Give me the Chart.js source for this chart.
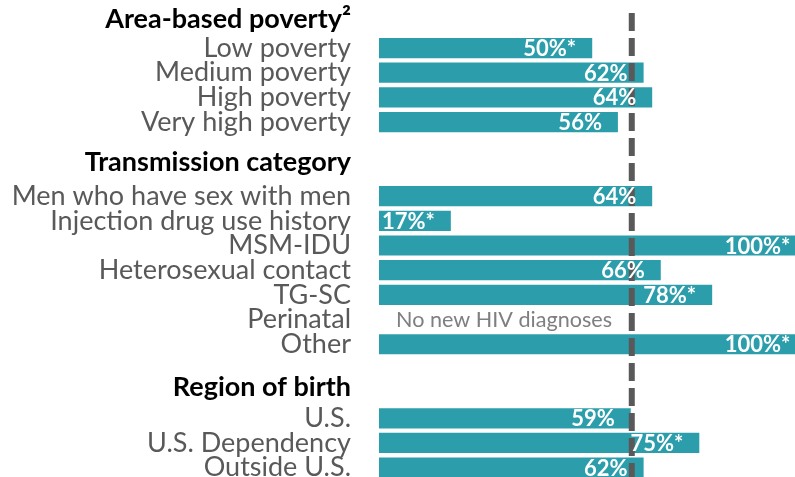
<!DOCTYPE html>
<html>
<head>
<meta charset="utf-8">
<script src="https://cdn.jsdelivr.net/npm/chart.js@4.4.1/dist/chart.umd.min.js"></script>
<style>
  html, body { margin: 0; padding: 0; background: #fff; overflow: hidden; }
  #wrap { width: 795px; height: 480px; }
</style>
</head>
<body>
<div id="wrap"><canvas id="chart"></canvas></div>
<script>
const rowLabels = [
  'Area-based poverty²', 'Low poverty', 'Medium poverty', 'High poverty', 'Very high poverty',
  '',
  'Transmission category', 'Men who have sex with men', 'Injection drug use history', 'MSM-IDU',
  'Heterosexual contact', 'TG-SC', 'Perinatal', 'Other',
  '',
  'Region of birth', 'U.S.', 'U.S. Dependency', 'Outside U.S.'
];
const headers = ['Area-based poverty²', 'Transmission category', 'Region of birth'];
const percents = [null, 50, 62, 64, 56, null, null, 64, 17, 100, 66, 78, null, 100, null, null, 59, 75, 62];
const valueLabels = ['', '50%*', '62%', '64%', '56%', '', '', '64%', '17%*', '100%*', '66%', '78%*', '', '100%*', '', '', '59%', '75%*', '62%'];
const noteLabels = { 'Perinatal': 'No new HIV diagnoses' };
const referenceValue = 59;

const FONT = 'Lato';
// headers sit a little above their row
const headerShift = { 'Area-based poverty²': 4, 'Transmission category': 9, 'Region of birth': 6 };

const overlay = {
  id: 'overlay',
  afterDatasetsDraw(chart) {
    const ctx = chart.ctx;
    const xs = chart.scales.x, ys = chart.scales.y;

    // dashed reference line
    const lx = xs.getPixelForValue(referenceValue);
    ctx.save();
    ctx.strokeStyle = '#595959';
    ctx.lineWidth = 6;
    ctx.setLineDash([18, 7]);
    ctx.beginPath();
    ctx.moveTo(lx, 13);
    ctx.lineTo(lx, chart.height);
    ctx.stroke();
    ctx.restore();

    // value labels inside bar ends
    const meta = chart.getDatasetMeta(0);
    ctx.save();
    ctx.textBaseline = 'middle';
    meta.data.forEach((bar, i) => {
      if (percents[i] == null) {
        const note = noteLabels[rowLabels[i]];
        if (note) {
          ctx.font = '21.6px ' + FONT;
          ctx.fillStyle = '#7f7f7f';
          ctx.textAlign = 'left';
          ctx.fillText(note, xs.getPixelForValue(0) + 17, ys.getPixelForValue(i));
        }
        return;
      }
      ctx.font = 'bold 22px ' + FONT;
      ctx.fillStyle = '#ffffff';
      ctx.textAlign = 'right';
      ctx.fillText(valueLabels[i], bar.x - 17, bar.y + 1);
    });
    ctx.restore();
  }
};

new Chart(document.getElementById('chart'), {
  type: 'bar',
  data: {
    labels: rowLabels,
    datasets: [{
      data: percents,
      backgroundColor: '#2c9eab',
      borderColor: 'rgba(255,255,255,0.35)',
      borderWidth: 1,
      barPercentage: 0.9,
      categoryPercentage: 1
    }]
  },
  options: {
    indexAxis: 'y',
    responsive: true,
    maintainAspectRatio: false,
    animation: false,
    layout: { padding: { top: 11, right: 0, bottom: 0, left: 0 } },
    plugins: { legend: { display: false }, tooltip: { enabled: false } },
    scales: {
      x: { display: false, min: 0, max: 97.1 },
      y: {
        grid: { display: false, drawTicks: false },
        border: { display: false },
        ticks: {
          padding: 28,
          autoSkip: false,
          callback: function (v, i) {
            const t = rowLabels[i];
            return headerShift[t] ? [t, ''] : t;
          },
          color: (c) => headers.includes(rowLabels[c.index]) ? '#000000' : '#595959',
          font: (c) => {
            const t = rowLabels[c.index];
            if (headers.includes(t)) {
              return { family: FONT, size: 27, weight: 'bold', lineHeight: (headerShift[t] * 2) + 'px' };
            }
            return { family: FONT, size: 27 };
          }
        },
        afterFit(scale) {
          scale.width = 379;
          scale.paddingTop = 0;
          scale.paddingBottom = 0;
        }
      }
    }
  },
  plugins: [overlay]
});
</script>
</body>
</html>
